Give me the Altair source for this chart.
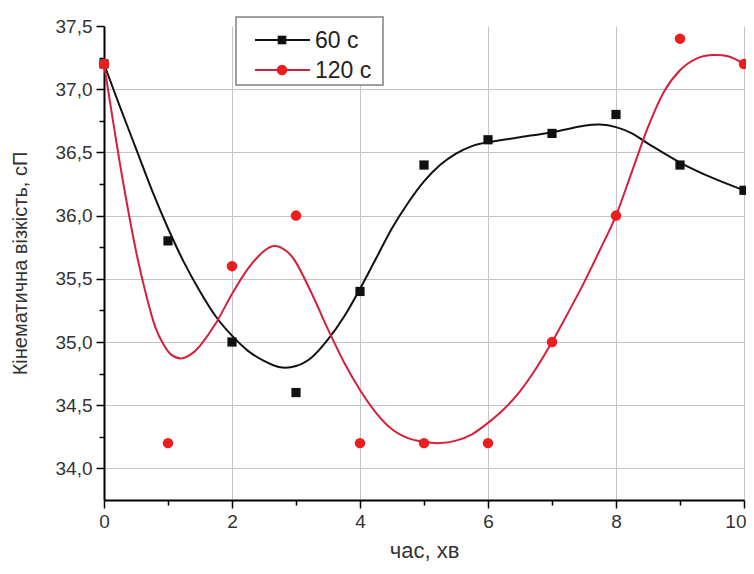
import altair as alt
import pandas as pd

# ---- data ----
time_min = [0, 1, 2, 3, 4, 5, 6, 7, 8, 9, 10]
visc_60 = [37.2, 35.8, 35.0, 34.6, 35.4, 36.4, 36.6, 36.65, 36.8, 36.4, 36.2]
visc_120 = [37.2, 34.2, 35.6, 36.0, 34.2, 34.2, 34.2, 35.0, 36.0, 37.4, 37.2]

# smooth fitted curves
curve_60_x = [0, 0.25, 0.5, 0.75, 1.0, 1.25, 1.5, 1.75, 2.0, 2.25, 2.5, 2.75, 3.0,
              3.25, 3.5, 3.75, 4.0, 4.25, 4.5, 4.75, 5.0, 5.25, 5.5, 5.75, 6.0,
              6.5, 7.0, 7.5, 7.75, 8.0, 8.25, 8.5, 9.0, 9.5, 10]
curve_60_y = [37.2, 36.86, 36.53, 36.2, 35.9, 35.63, 35.4, 35.2, 35.05, 34.93,
              34.85, 34.8, 34.81, 34.88, 35.02, 35.2, 35.42, 35.66, 35.9, 36.1,
              36.27, 36.4, 36.49, 36.55, 36.58, 36.62, 36.66, 36.71, 36.72, 36.7,
              36.65, 36.57, 36.42, 36.3, 36.2]
curve_120_x = [0, 0.15, 0.3, 0.5, 0.67, 0.8, 0.93, 1.05, 1.2, 1.35, 1.5, 1.75, 2.0,
               2.25, 2.5, 2.67, 2.85, 3.0, 3.25, 3.5, 3.75, 4.0, 4.25, 4.5, 4.75,
               5.0, 5.25, 5.5, 5.75, 6.0, 6.25, 6.5, 6.75, 7.0, 7.25, 7.5, 7.75,
               8.0, 8.25, 8.5, 8.75, 9.0, 9.25, 9.5, 9.75, 10]
curve_120_y = [37.2, 36.72, 36.26, 35.72, 35.35, 35.12, 34.98, 34.9, 34.87, 34.9,
               34.97, 35.15, 35.38, 35.58, 35.72, 35.76, 35.72, 35.63, 35.38, 35.1,
               34.84, 34.62, 34.44, 34.31, 34.24, 34.21, 34.2, 34.22, 34.27, 34.36,
               34.47, 34.61, 34.79, 35.0, 35.23, 35.47, 35.73, 36.0, 36.35, 36.7,
               36.98, 37.15, 37.24, 37.27, 37.26, 37.2]

legend_labels = ["60 с", "120 с"]
x_ticks = [0, 1, 2, 3, 4, 5, 6, 7, 8, 9, 10]
y_ticks = [34.0, 34.25, 34.5, 34.75, 35.0, 35.25, 35.5, 35.75, 36.0, 36.25, 36.5,
           36.75, 37.0, 37.25, 37.5]

BLACK = "#111111"
RED_PT = "#ee1c1c"
RED_LN = "#d4203c"
FONT = "Liberation Sans"
TXT = "#333333"

pts = pd.DataFrame({"t": time_min, "v60": visc_60, "v120": visc_120})
c60 = pd.DataFrame({"t": curve_60_x, "v": curve_60_y})
c120 = pd.DataFrame({"t": curve_120_x, "v": curve_120_y})

x_major = "datum.value % 2 === 0"
y_major = "abs(datum.value * 2 - round(datum.value * 2)) < 0.01"

x_axis = alt.Axis(
    values=x_ticks,
    labelExpr=f"{x_major} ? datum.label : ''",
    labelAlign={"condition": {"test": "datum.value === 10", "value": "right"}, "value": "center"},
    labelOffset={"condition": {"test": "datum.value === 10", "value": 2}, "value": 0},
    tickSize={"condition": {"test": x_major, "value": 8}, "value": 5},
    grid=True,
    gridColor="#c4c4c4",
    gridWidth=1,
    gridOpacity={"condition": {"test": f"{x_major} && datum.value > 0", "value": 1}, "value": 0},
    domainColor="black", domainWidth=2,
    tickColor="black", tickWidth=1.5,
    labelFont=FONT, labelFontSize=19, labelColor=TXT, labelPadding=4,
    title="час, хв", titleFont=FONT, titleFontSize=22, titleFontWeight="normal",
    titleColor=TXT, titleX=320, titleY=50, titleBaseline="middle", titleAlign="center",
)
y_axis = alt.Axis(
    values=y_ticks,
    labelExpr=f"{y_major} ? replace(format(datum.value, '.1f'), '.', ',') : ''",
    tickSize={"condition": {"test": y_major, "value": 8}, "value": 5},
    grid=True,
    gridColor="#c4c4c4",
    gridWidth=1,
    gridOpacity={"condition": {"test": f"{y_major} && datum.value < 37.4", "value": 1}, "value": 0},
    domainColor="black", domainWidth=2,
    tickColor="black", tickWidth=1.5,
    labelFont=FONT, labelFontSize=19, labelColor=TXT, labelPadding=4,
    title="Кінематична візкість, сП", titleFont=FONT, titleFontSize=20,
    titleFontWeight="normal", titleColor=TXT, titleX=-84, titleY=237,
    titleAngle=270, titleBaseline="middle", titleAlign="center",
)

xs = alt.Scale(domain=[0, 10], nice=False, zero=False)
ys = alt.Scale(domain=[33.75, 37.5], nice=False, zero=False)

line60 = alt.Chart(c60).mark_line(color=BLACK, strokeWidth=2, interpolate="cardinal").encode(
    x=alt.X("t:Q", scale=xs, axis=x_axis),
    y=alt.Y("v:Q", scale=ys, axis=y_axis),
)
line120 = alt.Chart(c120).mark_line(color=RED_LN, strokeWidth=2, interpolate="cardinal").encode(
    x=alt.X("t:Q", scale=xs, axis=x_axis),
    y=alt.Y("v:Q", scale=ys, axis=y_axis),
)
sq60 = alt.Chart(pts).mark_square(color=BLACK, size=85, opacity=1).encode(
    x=alt.X("t:Q", scale=xs, axis=x_axis),
    y=alt.Y("v60:Q", scale=ys, axis=y_axis),
)
ci120 = alt.Chart(pts).mark_circle(color=RED_PT, size=110, opacity=1).encode(
    x=alt.X("t:Q", scale=xs, axis=x_axis),
    y=alt.Y("v120:Q", scale=ys, axis=y_axis),
)

# ---- manual legend (line + marker, like the original) ----
leg_df = pd.DataFrame({"label": legend_labels})
leg_box = alt.Chart(leg_df.head(1)).mark_rect(
    fill="white", stroke="#808080", strokeWidth=1.5
).encode(x=alt.value(132), x2=alt.value(279), y=alt.value(-9), y2=alt.value(59))

def legend_entry(label, ypix, color, line_color, shape, size):
    d = leg_df[leg_df["label"] == label]
    ln = alt.Chart(d).mark_rule(color=line_color, strokeWidth=2).encode(
        x=alt.value(151), x2=alt.value(206), y=alt.value(ypix))
    mk = alt.Chart(d).mark_point(shape=shape, filled=True, color=color, size=size, opacity=1).encode(
        x=alt.value(178), y=alt.value(ypix))
    tx = alt.Chart(d).mark_text(align="left", baseline="middle", font=FONT, fontSize=23,
                                color="#222222").encode(
        x=alt.value(211), y=alt.value(ypix + 1), text="label:N")
    return [ln, mk, tx]

legend_layers = legend_entry("60 с", 14, BLACK, BLACK, "square", 75) + \
    legend_entry("120 с", 44, RED_PT, RED_LN, "circle", 110)

chart = alt.layer(line60, line120, sq60, ci120, leg_box, *legend_layers).properties(
    width=640, height=474,
    autosize=alt.AutoSizeParams(type="none"),
    padding={"left": 96, "top": 18, "right": 2, "bottom": 66},
    background="white",
).configure_view(stroke=None)

chart.save("out.html", embed_options={"renderer": "svg", "actions": False})
